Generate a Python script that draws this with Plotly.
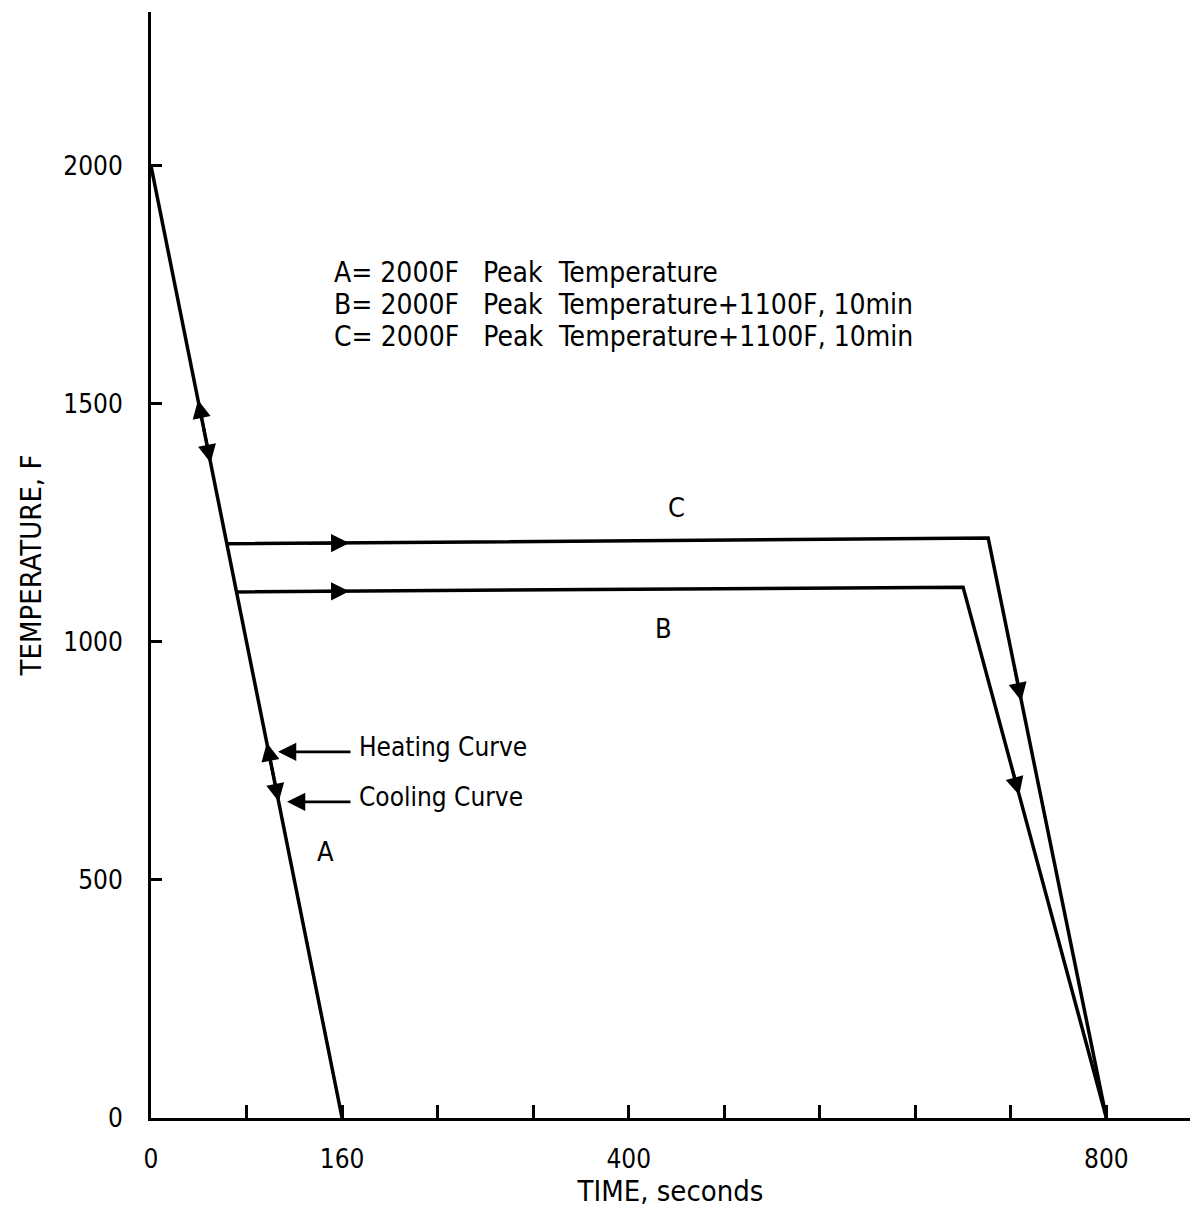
import plotly.graph_objects as go

# ---- data ----
curve_a_time = [0, 160]
curve_a_temp = [2000, 0]

curve_b_time = [71, 680, 800]
curve_b_temp = [1105, 1115, 0]

curve_c_time = [63, 701, 800]
curve_c_temp = [1206, 1218, 0]

x_tick_vals = [0, 80, 160, 240, 320, 400, 480, 560, 640, 720, 800]
x_tick_text = ["0", "", "160", "", "", "400", "", "", "", "", "800"]
y_tick_vals = [0, 500, 1000, 1500, 2000]
y_tick_text = ["0", "500", "1000", "1500", "2000"]

legend_lines = [
    "A=\u00a02000F\u00a0\u00a0 Peak\u00a0\u00a0Temperature",
    "B=\u00a02000F\u00a0\u00a0 Peak\u00a0\u00a0Temperature+1100F,\u00a010min",
    "C=\u00a02000F\u00a0\u00a0 Peak\u00a0\u00a0Temperature+1100F,\u00a010min",
]
curve_labels = ["A", "B", "C"]

FONT = "DejaVu Sans Condensed, Liberation Sans Narrow, DejaVu Sans, sans-serif"
BLACK = "black"

fig = go.Figure()
for t, T in [(curve_a_time, curve_a_temp), (curve_b_time, curve_b_temp), (curve_c_time, curve_c_temp)]:
    fig.add_trace(go.Scatter(x=t, y=T, mode="lines",
                             line=dict(color=BLACK, width=3.5), hoverinfo="skip"))


def line_arrow(tip, tail, size=1.3):
    fig.add_annotation(x=tip[0], y=tip[1], ax=tail[0], ay=tail[1],
                       xref="x", yref="y", axref="x", ayref="y",
                       text="", showarrow=True, arrowhead=2, arrowsize=size,
                       arrowwidth=2.8, arrowcolor=BLACK)


# arrowheads on curve A (heating = up, cooling = down)
line_arrow((39.4, 1508), (45, 1438))
line_arrow((49.9, 1376), (44, 1450))
line_arrow((97.0, 788), (103, 713))
line_arrow((107.0, 664), (101, 739))
# arrowheads on plateaus
line_arrow((166, 1207.5), (130, 1207))
line_arrow((166, 1106.5), (130, 1106))
# arrowheads on descending parts
line_arrow((728.8, 876), (723, 946))
line_arrow((727, 678), (721, 734))

# label arrows
line_arrow((106.4, 769), (168.3, 769))
line_arrow((113.9, 664), (168.3, 664))

fig.add_annotation(x=172.5, y=779, text="Heating Curve", showarrow=False,
                   xanchor="left", yanchor="middle", font=dict(family=FONT, size=26, color=BLACK))
fig.add_annotation(x=172.5, y=674, text="Cooling Curve", showarrow=False,
                   xanchor="left", yanchor="middle", font=dict(family=FONT, size=26, color=BLACK))

for txt, T in zip(legend_lines, [1775, 1708, 1641]):
    fig.add_annotation(x=151.5, y=T, text=txt, showarrow=False,
                       xanchor="left", yanchor="middle", font=dict(family=FONT, size=28, color=BLACK))

for txt, (t, T) in zip(curve_labels, [(145.7, 559), (428.8, 1029), (439.7, 1282)]):
    fig.add_annotation(x=t, y=T, text=txt, showarrow=False,
                       xanchor="center", yanchor="middle", font=dict(family=FONT, size=27, color=BLACK))

fig.update_layout(
    width=1190, height=1217,
    margin=dict(l=151, r=0, t=12, b=99),
    paper_bgcolor="white", plot_bgcolor="white",
    showlegend=False,
    font=dict(family=FONT, color=BLACK, size=25),
    xaxis=dict(range=[0, 870], showgrid=False, zeroline=False,
               showline=True, linecolor=BLACK, linewidth=3,
               ticks="inside", ticklen=13, tickwidth=2.5, tickcolor=BLACK,
               tickvals=x_tick_vals, ticktext=x_tick_text,
               tickfont=dict(family=FONT, size=26, color=BLACK),
               ticklabelstandoff=16,
               title=dict(text="TIME, seconds", font=dict(family=FONT, size=29, color=BLACK), standoff=6)),
    yaxis=dict(range=[0, 2323], showgrid=False, zeroline=False,
               showline=True, linecolor=BLACK, linewidth=3,
               ticks="inside", ticklen=11, tickwidth=2.5, tickcolor=BLACK,
               tickvals=y_tick_vals, ticktext=y_tick_text,
               tickfont=dict(family=FONT, size=26, color=BLACK),
               ticklabelstandoff=20,
               title=dict(text="TEMPERATURE, F", font=dict(family=FONT, size=29, color=BLACK), standoff=14)),
)

fig.write_html("out.html")
